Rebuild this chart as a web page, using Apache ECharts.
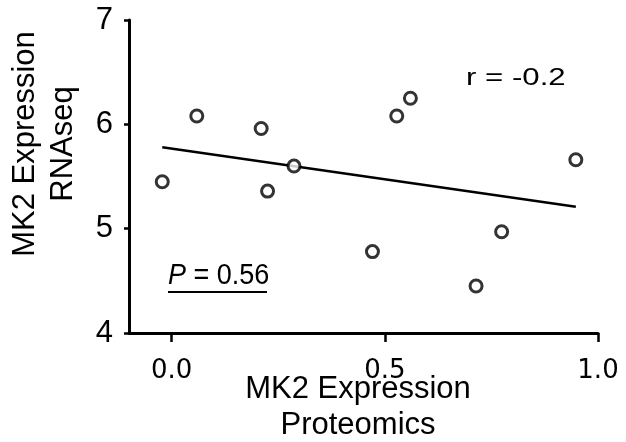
<!DOCTYPE html>
<html>
<head>
<meta charset="utf-8">
<script src="https://cdn.jsdelivr.net/npm/echarts@6/dist/echarts.min.js"></script>
<style>
  html, body { margin: 0; padding: 0; background: #fff; }
  #main { width: 626px; height: 442px; }
</style>
</head>
<body>
<div id="main"></div>
<script>
// MK2 expression: proteomics (x) vs RNAseq (y)
var proteomics = [-0.022, 0.059, 0.21, 0.225, 0.287, 0.471, 0.528, 0.56, 0.714, 0.774, 0.948];
var rnaseq     = [5.45, 6.08, 5.96, 5.36, 5.60, 4.78, 6.08, 6.25, 4.45, 4.97, 5.66];
// regression line ends
var fitX = [-0.022, 0.948];
var fitY = [5.78, 5.21];
// tick labels
var xTicks = [0, 0.5, 1.0];
var yTicks = [4, 5, 6, 7];

var font = 'Liberation Sans';

var points = [];
for (var i = 0; i < proteomics.length; i++) {
    points.push([proteomics[i], rnaseq[i]]);
}
var fitLine = [];
for (var i = 0; i < fitX.length; i++) {
    fitLine.push([fitX[i], fitY[i]]);
}

var myChart = echarts.init(document.getElementById('main'));
var option = {
    animation: false,
    backgroundColor: '#fff',
    grid: { left: 129, right: 28, top: 20, bottom: 109, containLabel: false },
    xAxis: {
        type: 'value',
        min: -0.1,
        max: 1.0,
        splitLine: { show: false },
        axisLine: { onZero: false, lineStyle: { color: '#000', width: 3 } },
        axisTick: {
            show: true, length: 9, customValues: xTicks,
            lineStyle: { color: '#000', width: 2.5 }
        },
        axisLabel: {
            customValues: xTicks,
            margin: 25,
            fontFamily: 'DejaVu Sans',
            fontSize: 26,
            color: '#000',
            formatter: function (v) { return v.toFixed(1); }
        }
    },
    yAxis: {
        type: 'value',
        min: yTicks[0],
        max: yTicks[yTicks.length - 1],
        interval: 1,
        splitLine: { show: false },
        axisLine: { onZero: false, lineStyle: { color: '#000', width: 3 } },
        axisTick: { show: true, length: 5, lineStyle: { color: '#000', width: 2.5 } },
        axisLabel: {
            margin: 16,
            fontFamily: font,
            fontSize: 31,
            color: '#000'
        }
    },
    graphic: [
        {
            type: 'text', x: 44, y: 144, rotation: Math.PI / 2,
            style: {
                text: 'MK2 Expression\nRNAseq', font: '31px "Liberation Sans"',
                fill: '#000', align: 'center', verticalAlign: 'middle', lineHeight: 38
            }
        },
        {
            type: 'text', x: 358, y: 407,
            style: {
                text: 'MK2 Expression\nProteomics', font: '31px "Liberation Sans"',
                fill: '#000', align: 'center', verticalAlign: 'middle', lineHeight: 36
            }
        },
        {
            type: 'text', x: 466, y: 78, scaleX: 1.3,
            style: {
                text: 'r = -0.2', font: '24px "Liberation Sans"',
                fill: '#000', align: 'left', verticalAlign: 'middle'
            }
        },
        {
            type: 'text', x: 168, y: 276, scaleY: 1.1,
            style: {
                text: '{i|P} = 0.56', font: '27px "Liberation Sans"',
                fill: '#000', align: 'left', verticalAlign: 'middle',
                rich: { i: { fontStyle: 'italic', fontSize: 27, fontFamily: font } }
            }
        },
        {
            type: 'line',
            shape: { x1: 168, y1: 292, x2: 267, y2: 292 },
            style: { stroke: '#000', lineWidth: 2 }
        }
    ],
    series: [
        {
            type: 'line',
            data: fitLine,
            showSymbol: false,
            symbol: 'none',
            z: 2,
            lineStyle: { color: '#000', width: 2.5 }
        },
        {
            type: 'scatter',
            data: points,
            symbol: 'circle',
            symbolSize: 12,
            z: 3,
            itemStyle: { color: '#fff', borderColor: '#000', borderWidth: 3 }
        }
    ]
};
myChart.setOption(option);
</script>
</body>
</html>
